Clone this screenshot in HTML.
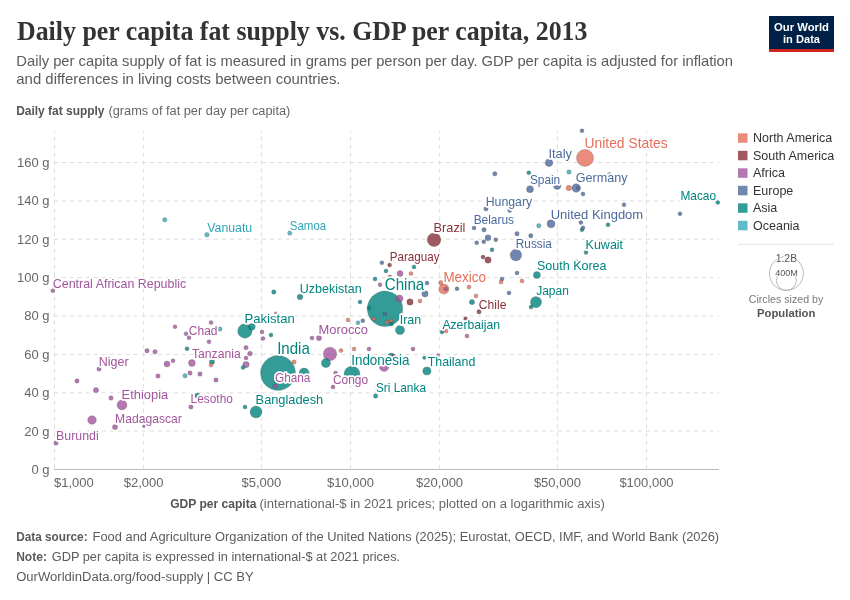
<!DOCTYPE html>
<html><head><meta charset="utf-8"><style>
html,body{margin:0;padding:0;background:#fff;width:850px;height:600px;overflow:hidden}
svg{display:block;font-family:"Liberation Sans",sans-serif;will-change:transform}
.lbl{paint-order:stroke;stroke:#fff;stroke-width:3.4px;stroke-linejoin:round}
</style></head><body>
<svg width="850" height="600" viewBox="0 0 850 600">

<text x="17" y="40.4" font-family="Liberation Serif, serif" font-weight="bold" font-size="28" fill="#333" textLength="570.5" lengthAdjust="spacingAndGlyphs">Daily per capita fat supply vs. GDP per capita, 2013</text>
<text x="16.3" y="66.4" font-size="15" fill="#5b5b5b" textLength="716.7" lengthAdjust="spacingAndGlyphs">Daily per capita supply of fat is measured in grams per person per day. GDP per capita is adjusted for inflation</text>
<text x="16.3" y="84.3" font-size="15" fill="#5b5b5b" textLength="324.2" lengthAdjust="spacingAndGlyphs">and differences in living costs between countries.</text>
<rect x="769" y="16" width="65" height="33" fill="#002147"/><rect x="769" y="49" width="65" height="3" fill="#ce261e"/>
<text x="801.5" y="30.7" font-size="11.5" font-weight="bold" fill="#fff" text-anchor="middle" textLength="55" lengthAdjust="spacingAndGlyphs">Our World</text>
<text x="801.5" y="42.5" font-size="11.5" font-weight="bold" fill="#fff" text-anchor="middle" textLength="37" lengthAdjust="spacingAndGlyphs">in Data</text>
<text x="16.2" y="115.2" font-size="12" font-weight="bold" fill="#555" textLength="88.3" lengthAdjust="spacingAndGlyphs">Daily fat supply</text>
<text x="108.5" y="115.2" font-size="12" fill="#666" textLength="181.8" lengthAdjust="spacingAndGlyphs">(grams of fat per day per capita)</text>
<line x1="54.5" y1="468.6" x2="54.5" y2="130.5" stroke="#ddd" stroke-width="1" stroke-dasharray="4,4"/>
<line x1="143.6" y1="468.6" x2="143.6" y2="130.5" stroke="#ddd" stroke-width="1" stroke-dasharray="4,4"/>
<line x1="261.4" y1="468.6" x2="261.4" y2="130.5" stroke="#ddd" stroke-width="1" stroke-dasharray="4,4"/>
<line x1="350.5" y1="468.6" x2="350.5" y2="130.5" stroke="#ddd" stroke-width="1" stroke-dasharray="4,4"/>
<line x1="439.6" y1="468.6" x2="439.6" y2="130.5" stroke="#ddd" stroke-width="1" stroke-dasharray="4,4"/>
<line x1="557.4" y1="468.6" x2="557.4" y2="130.5" stroke="#ddd" stroke-width="1" stroke-dasharray="4,4"/>
<line x1="646.5" y1="468.6" x2="646.5" y2="130.5" stroke="#ddd" stroke-width="1" stroke-dasharray="4,4"/>
<line x1="53.6" y1="431.1" x2="719" y2="431.1" stroke="#ddd" stroke-width="1" stroke-dasharray="4,4"/>
<line x1="53.6" y1="392.8" x2="719" y2="392.8" stroke="#ddd" stroke-width="1" stroke-dasharray="4,4"/>
<line x1="53.6" y1="354.4" x2="719" y2="354.4" stroke="#ddd" stroke-width="1" stroke-dasharray="4,4"/>
<line x1="53.6" y1="316.0" x2="719" y2="316.0" stroke="#ddd" stroke-width="1" stroke-dasharray="4,4"/>
<line x1="53.6" y1="277.6" x2="719" y2="277.6" stroke="#ddd" stroke-width="1" stroke-dasharray="4,4"/>
<line x1="53.6" y1="239.2" x2="719" y2="239.2" stroke="#ddd" stroke-width="1" stroke-dasharray="4,4"/>
<line x1="53.6" y1="200.9" x2="719" y2="200.9" stroke="#ddd" stroke-width="1" stroke-dasharray="4,4"/>
<line x1="53.6" y1="162.5" x2="719" y2="162.5" stroke="#ddd" stroke-width="1" stroke-dasharray="4,4"/>
<line x1="54" y1="469.5" x2="719" y2="469.5" stroke="#bbb" stroke-width="1"/>
<text x="49.6" y="473.9" font-size="13" fill="#666" text-anchor="end" textLength="18.1" lengthAdjust="spacingAndGlyphs">0 g</text>
<text x="49.6" y="435.5" font-size="13" fill="#666" text-anchor="end" textLength="25.3" lengthAdjust="spacingAndGlyphs">20 g</text>
<text x="49.6" y="397.1" font-size="13" fill="#666" text-anchor="end" textLength="25.3" lengthAdjust="spacingAndGlyphs">40 g</text>
<text x="49.6" y="358.8" font-size="13" fill="#666" text-anchor="end" textLength="25.3" lengthAdjust="spacingAndGlyphs">60 g</text>
<text x="49.6" y="320.4" font-size="13" fill="#666" text-anchor="end" textLength="25.3" lengthAdjust="spacingAndGlyphs">80 g</text>
<text x="49.6" y="282.0" font-size="13" fill="#666" text-anchor="end" textLength="32.5" lengthAdjust="spacingAndGlyphs">100 g</text>
<text x="49.6" y="243.7" font-size="13" fill="#666" text-anchor="end" textLength="32.5" lengthAdjust="spacingAndGlyphs">120 g</text>
<text x="49.6" y="205.3" font-size="13" fill="#666" text-anchor="end" textLength="32.5" lengthAdjust="spacingAndGlyphs">140 g</text>
<text x="49.6" y="166.9" font-size="13" fill="#666" text-anchor="end" textLength="32.5" lengthAdjust="spacingAndGlyphs">160 g</text>
<text x="54.0" y="487.4" font-size="13" fill="#666" text-anchor="start">$1,000</text>
<text x="143.6" y="487.4" font-size="13" fill="#666" text-anchor="middle">$2,000</text>
<text x="261.4" y="487.4" font-size="13" fill="#666" text-anchor="middle">$5,000</text>
<text x="350.5" y="487.4" font-size="13" fill="#666" text-anchor="middle">$10,000</text>
<text x="439.6" y="487.4" font-size="13" fill="#666" text-anchor="middle">$20,000</text>
<text x="557.4" y="487.4" font-size="13" fill="#666" text-anchor="middle">$50,000</text>
<text x="646.5" y="487.4" font-size="13" fill="#666" text-anchor="middle">$100,000</text>
<text x="170.2" y="508" font-size="12" font-weight="bold" fill="#555" textLength="86.2" lengthAdjust="spacingAndGlyphs">GDP per capita</text>
<text x="259.5" y="508" font-size="12" fill="#666" textLength="345.3" lengthAdjust="spacingAndGlyphs">(international-$ in 2021 prices; plotted on a logarithmic axis)</text>
<text x="16.2" y="540.8" font-size="12" font-weight="bold" fill="#5b5b5b" textLength="71.4" lengthAdjust="spacingAndGlyphs">Data source:</text>
<text x="92.6" y="540.8" font-size="12" fill="#5b5b5b" textLength="626.5" lengthAdjust="spacingAndGlyphs">Food and Agriculture Organization of the United Nations (2025); Eurostat, OECD, IMF, and World Bank (2026)</text>
<text x="16.2" y="560.7" font-size="12" font-weight="bold" fill="#5b5b5b" textLength="30.7" lengthAdjust="spacingAndGlyphs">Note:</text>
<text x="51.7" y="560.7" font-size="12" fill="#5b5b5b" textLength="348.4" lengthAdjust="spacingAndGlyphs">GDP per capita is expressed in international-$ at 2021 prices.</text>
<text x="16.2" y="580.8" font-size="12" fill="#5b5b5b" textLength="237.6" lengthAdjust="spacingAndGlyphs">OurWorldinData.org/food-supply | CC BY</text>
<rect x="738" y="133.3" width="9.5" height="9.5" fill="#E56E5A" opacity="0.8"/>
<text x="753" y="142.0" font-size="12.5" fill="#333">North America</text>
<rect x="738" y="150.8" width="9.5" height="9.5" fill="#883039" opacity="0.8"/>
<text x="753" y="159.5" font-size="12.5" fill="#333">South America</text>
<rect x="738" y="168.3" width="9.5" height="9.5" fill="#A2559C" opacity="0.8"/>
<text x="753" y="177.0" font-size="12.5" fill="#333">Africa</text>
<rect x="738" y="185.8" width="9.5" height="9.5" fill="#4C6A9C" opacity="0.8"/>
<text x="753" y="194.5" font-size="12.5" fill="#333">Europe</text>
<rect x="738" y="203.3" width="9.5" height="9.5" fill="#00847E" opacity="0.8"/>
<text x="753" y="212.0" font-size="12.5" fill="#333">Asia</text>
<rect x="738" y="220.8" width="9.5" height="9.5" fill="#38AABA" opacity="0.8"/>
<text x="753" y="229.5" font-size="12.5" fill="#333">Oceania</text>
<line x1="738.3" y1="244.3" x2="833.8" y2="244.3" stroke="#e3e3e3" stroke-width="1"/>
<circle cx="786.4" cy="273.4" r="17" fill="none" stroke="#aaa" stroke-width="0.8"/>
<circle cx="786.4" cy="280.4" r="10" fill="none" stroke="#aaa" stroke-width="0.8"/>
<text x="786.4" y="262" font-size="10.4" fill="#555" text-anchor="middle" class="lbl" style="stroke-width:2px">1.2B</text>
<text x="786.4" y="275.8" font-size="9" fill="#555" text-anchor="middle" class="lbl" style="stroke-width:2px">400M</text>
<text x="786" y="303.3" font-size="10.6" fill="#777" text-anchor="middle" textLength="74.5" lengthAdjust="spacingAndGlyphs">Circles sized by</text>
<text x="786.2" y="317.2" font-size="11.3" font-weight="bold" fill="#555" text-anchor="middle" textLength="58.5" lengthAdjust="spacingAndGlyphs">Population</text>
<g stroke="#333" stroke-width="0.5" stroke-opacity="0.6">
<circle cx="385.0" cy="308.8" r="17.7" fill="#00847E" opacity="0.8"/>
<circle cx="278.0" cy="373.0" r="17.4" fill="#00847E" opacity="0.8"/>
<circle cx="585.0" cy="157.9" r="8.5" fill="#E56E5A" opacity="0.8"/>
<circle cx="352.0" cy="374.2" r="8.0" fill="#00847E" opacity="0.8"/>
<circle cx="244.9" cy="331.0" r="7.2" fill="#00847E" opacity="0.8"/>
<circle cx="434.0" cy="239.8" r="6.8" fill="#883039" opacity="0.8"/>
<circle cx="330.0" cy="353.9" r="6.7" fill="#A2559C" opacity="0.8"/>
<circle cx="256.0" cy="411.9" r="6.0" fill="#00847E" opacity="0.8"/>
<circle cx="515.9" cy="255.1" r="5.8" fill="#4C6A9C" opacity="0.8"/>
<circle cx="536.0" cy="302.1" r="5.6" fill="#00847E" opacity="0.8"/>
<circle cx="304.1" cy="373.2" r="5.1" fill="#00847E" opacity="0.8"/>
<circle cx="443.9" cy="289.0" r="5.1" fill="#E56E5A" opacity="0.8"/>
<circle cx="122.0" cy="405.0" r="4.9" fill="#A2559C" opacity="0.8"/>
<circle cx="384.1" cy="366.7" r="4.8" fill="#A2559C" opacity="0.8"/>
<circle cx="400.0" cy="330.0" r="4.6" fill="#00847E" opacity="0.8"/>
<circle cx="325.9" cy="363.0" r="4.6" fill="#00847E" opacity="0.8"/>
<circle cx="92.0" cy="420.0" r="4.3" fill="#A2559C" opacity="0.8"/>
<circle cx="576.2" cy="188.0" r="4.3" fill="#4C6A9C" opacity="0.8"/>
<circle cx="426.9" cy="371.0" r="4.1" fill="#00847E" opacity="0.8"/>
<circle cx="551.0" cy="223.8" r="4.0" fill="#4C6A9C" opacity="0.8"/>
<circle cx="549.0" cy="162.8" r="3.8" fill="#4C6A9C" opacity="0.8"/>
<circle cx="557.2" cy="185.8" r="3.7" fill="#4C6A9C" opacity="0.8"/>
<circle cx="399.5" cy="298.4" r="3.5" fill="#A2559C" opacity="0.8"/>
<circle cx="536.9" cy="275.0" r="3.5" fill="#00847E" opacity="0.8"/>
<circle cx="530.0" cy="189.2" r="3.5" fill="#4C6A9C" opacity="0.8"/>
<circle cx="191.9" cy="363.0" r="3.4" fill="#A2559C" opacity="0.8"/>
<circle cx="251.9" cy="326.8" r="3.4" fill="#00847E" opacity="0.8"/>
<circle cx="246.0" cy="364.6" r="3.2" fill="#A2559C" opacity="0.8"/>
<circle cx="391.2" cy="356.2" r="3.2" fill="#00847E" opacity="0.8"/>
<circle cx="425.0" cy="293.8" r="3.2" fill="#4C6A9C" opacity="0.8"/>
<circle cx="488.0" cy="260.0" r="3.2" fill="#883039" opacity="0.8"/>
<circle cx="410.0" cy="302.0" r="3.2" fill="#883039" opacity="0.8"/>
<circle cx="167.0" cy="363.9" r="3.0" fill="#A2559C" opacity="0.8"/>
<circle cx="400.0" cy="273.6" r="3.0" fill="#A2559C" opacity="0.8"/>
<circle cx="488.0" cy="237.8" r="3.0" fill="#4C6A9C" opacity="0.8"/>
<circle cx="300.0" cy="297.0" r="2.8" fill="#00847E" opacity="0.8"/>
<circle cx="197.5" cy="395.8" r="2.7" fill="#00847E" opacity="0.8"/>
<circle cx="568.8" cy="188.0" r="2.7" fill="#E56E5A" opacity="0.8"/>
<circle cx="96.0" cy="390.0" r="2.6" fill="#A2559C" opacity="0.8"/>
<circle cx="115.0" cy="427.0" r="2.6" fill="#A2559C" opacity="0.8"/>
<circle cx="319.0" cy="338.0" r="2.6" fill="#A2559C" opacity="0.8"/>
<circle cx="212.0" cy="361.8" r="2.6" fill="#00847E" opacity="0.8"/>
<circle cx="472.0" cy="302.0" r="2.6" fill="#00847E" opacity="0.8"/>
<circle cx="250.0" cy="353.6" r="2.4" fill="#A2559C" opacity="0.8"/>
<circle cx="206.9" cy="234.8" r="2.3" fill="#38AABA" opacity="0.8"/>
<circle cx="164.8" cy="219.8" r="2.2" fill="#38AABA" opacity="0.8"/>
<circle cx="289.8" cy="233.0" r="2.2" fill="#38AABA" opacity="0.8"/>
<circle cx="569.0" cy="172.0" r="2.2" fill="#38AABA" opacity="0.8"/>
<circle cx="538.8" cy="225.7" r="2.2" fill="#38AABA" opacity="0.8"/>
<circle cx="220.0" cy="329.0" r="2.2" fill="#38AABA" opacity="0.8"/>
<circle cx="185.0" cy="375.8" r="2.2" fill="#38AABA" opacity="0.8"/>
<circle cx="147.0" cy="350.7" r="2.2" fill="#A2559C" opacity="0.8"/>
<circle cx="155.0" cy="351.8" r="2.2" fill="#A2559C" opacity="0.8"/>
<circle cx="99.0" cy="369.0" r="2.2" fill="#A2559C" opacity="0.8"/>
<circle cx="77.0" cy="381.0" r="2.2" fill="#A2559C" opacity="0.8"/>
<circle cx="158.0" cy="376.0" r="2.2" fill="#A2559C" opacity="0.8"/>
<circle cx="190.0" cy="373.0" r="2.2" fill="#A2559C" opacity="0.8"/>
<circle cx="200.0" cy="374.0" r="2.2" fill="#A2559C" opacity="0.8"/>
<circle cx="216.0" cy="380.0" r="2.2" fill="#A2559C" opacity="0.8"/>
<circle cx="111.0" cy="398.0" r="2.2" fill="#A2559C" opacity="0.8"/>
<circle cx="190.9" cy="406.9" r="2.2" fill="#A2559C" opacity="0.8"/>
<circle cx="56.0" cy="443.0" r="2.2" fill="#A2559C" opacity="0.8"/>
<circle cx="246.0" cy="347.6" r="2.2" fill="#A2559C" opacity="0.8"/>
<circle cx="273.8" cy="292.0" r="2.2" fill="#00847E" opacity="0.8"/>
<circle cx="375.6" cy="396.0" r="2.2" fill="#00847E" opacity="0.8"/>
<circle cx="494.8" cy="173.8" r="2.2" fill="#4C6A9C" opacity="0.8"/>
<circle cx="486.0" cy="208.8" r="2.2" fill="#4C6A9C" opacity="0.8"/>
<circle cx="484.0" cy="229.8" r="2.2" fill="#4C6A9C" opacity="0.8"/>
<circle cx="517.0" cy="233.7" r="2.2" fill="#4C6A9C" opacity="0.8"/>
<circle cx="530.8" cy="235.8" r="2.2" fill="#4C6A9C" opacity="0.8"/>
<circle cx="440.8" cy="282.7" r="2.2" fill="#E56E5A" opacity="0.8"/>
<circle cx="294.0" cy="362.0" r="2.2" fill="#E56E5A" opacity="0.8"/>
<circle cx="479.0" cy="311.8" r="2.2" fill="#883039" opacity="0.8"/>
<circle cx="394.0" cy="356.5" r="2.2" fill="#883039" opacity="0.8"/>
<circle cx="358.0" cy="322.8" r="2.0" fill="#38AABA" opacity="0.8"/>
<circle cx="52.8" cy="290.8" r="2.0" fill="#A2559C" opacity="0.8"/>
<circle cx="175.0" cy="326.7" r="2.0" fill="#A2559C" opacity="0.8"/>
<circle cx="211.0" cy="322.6" r="2.0" fill="#A2559C" opacity="0.8"/>
<circle cx="186.0" cy="333.7" r="2.0" fill="#A2559C" opacity="0.8"/>
<circle cx="189.0" cy="337.8" r="2.0" fill="#A2559C" opacity="0.8"/>
<circle cx="209.0" cy="341.8" r="2.0" fill="#A2559C" opacity="0.8"/>
<circle cx="173.0" cy="360.8" r="2.0" fill="#A2559C" opacity="0.8"/>
<circle cx="262.0" cy="332.0" r="2.0" fill="#A2559C" opacity="0.8"/>
<circle cx="263.0" cy="338.6" r="2.0" fill="#A2559C" opacity="0.8"/>
<circle cx="246.0" cy="358.0" r="2.0" fill="#A2559C" opacity="0.8"/>
<circle cx="312.0" cy="338.0" r="2.0" fill="#A2559C" opacity="0.8"/>
<circle cx="369.0" cy="349.0" r="2.0" fill="#A2559C" opacity="0.8"/>
<circle cx="333.0" cy="387.0" r="2.0" fill="#A2559C" opacity="0.8"/>
<circle cx="335.6" cy="373.0" r="2.0" fill="#A2559C" opacity="0.8"/>
<circle cx="380.0" cy="284.8" r="2.0" fill="#A2559C" opacity="0.8"/>
<circle cx="413.0" cy="349.0" r="2.0" fill="#A2559C" opacity="0.8"/>
<circle cx="467.0" cy="336.0" r="2.0" fill="#A2559C" opacity="0.8"/>
<circle cx="271.0" cy="335.0" r="2.0" fill="#00847E" opacity="0.8"/>
<circle cx="360.0" cy="302.0" r="2.0" fill="#00847E" opacity="0.8"/>
<circle cx="386.0" cy="271.0" r="2.0" fill="#00847E" opacity="0.8"/>
<circle cx="375.0" cy="279.0" r="2.0" fill="#00847E" opacity="0.8"/>
<circle cx="414.0" cy="267.0" r="2.0" fill="#00847E" opacity="0.8"/>
<circle cx="442.0" cy="332.0" r="2.0" fill="#00847E" opacity="0.8"/>
<circle cx="187.0" cy="348.7" r="2.0" fill="#00847E" opacity="0.8"/>
<circle cx="243.0" cy="367.6" r="2.0" fill="#00847E" opacity="0.8"/>
<circle cx="245.0" cy="407.0" r="2.0" fill="#00847E" opacity="0.8"/>
<circle cx="492.0" cy="249.8" r="2.0" fill="#00847E" opacity="0.8"/>
<circle cx="531.0" cy="307.0" r="2.0" fill="#00847E" opacity="0.8"/>
<circle cx="586.0" cy="252.4" r="2.0" fill="#00847E" opacity="0.8"/>
<circle cx="528.8" cy="172.8" r="2.0" fill="#00847E" opacity="0.8"/>
<circle cx="717.8" cy="202.6" r="2.0" fill="#00847E" opacity="0.8"/>
<circle cx="608.0" cy="224.8" r="2.0" fill="#00847E" opacity="0.8"/>
<circle cx="582.0" cy="229.8" r="2.0" fill="#00847E" opacity="0.8"/>
<circle cx="576.0" cy="261.5" r="2.0" fill="#00847E" opacity="0.8"/>
<circle cx="583.0" cy="194.0" r="2.0" fill="#4C6A9C" opacity="0.8"/>
<circle cx="582.0" cy="130.8" r="2.0" fill="#4C6A9C" opacity="0.8"/>
<circle cx="624.0" cy="204.8" r="2.0" fill="#4C6A9C" opacity="0.8"/>
<circle cx="680.0" cy="213.8" r="2.0" fill="#4C6A9C" opacity="0.8"/>
<circle cx="509.7" cy="210.5" r="2.0" fill="#4C6A9C" opacity="0.8"/>
<circle cx="474.0" cy="228.0" r="2.0" fill="#4C6A9C" opacity="0.8"/>
<circle cx="580.9" cy="222.6" r="2.0" fill="#4C6A9C" opacity="0.8"/>
<circle cx="583.0" cy="227.8" r="2.0" fill="#4C6A9C" opacity="0.8"/>
<circle cx="476.7" cy="242.8" r="2.0" fill="#4C6A9C" opacity="0.8"/>
<circle cx="483.8" cy="241.7" r="2.0" fill="#4C6A9C" opacity="0.8"/>
<circle cx="495.8" cy="239.7" r="2.0" fill="#4C6A9C" opacity="0.8"/>
<circle cx="381.9" cy="262.8" r="2.0" fill="#4C6A9C" opacity="0.8"/>
<circle cx="427.0" cy="283.0" r="2.0" fill="#4C6A9C" opacity="0.8"/>
<circle cx="457.0" cy="288.8" r="2.0" fill="#4C6A9C" opacity="0.8"/>
<circle cx="517.0" cy="273.0" r="2.0" fill="#4C6A9C" opacity="0.8"/>
<circle cx="502.0" cy="279.0" r="2.0" fill="#4C6A9C" opacity="0.8"/>
<circle cx="509.0" cy="293.0" r="2.0" fill="#4C6A9C" opacity="0.8"/>
<circle cx="362.8" cy="320.8" r="2.0" fill="#4C6A9C" opacity="0.8"/>
<circle cx="469.0" cy="287.0" r="2.0" fill="#E56E5A" opacity="0.8"/>
<circle cx="476.0" cy="296.0" r="2.0" fill="#E56E5A" opacity="0.8"/>
<circle cx="411.0" cy="273.6" r="2.0" fill="#E56E5A" opacity="0.8"/>
<circle cx="420.0" cy="301.0" r="2.0" fill="#E56E5A" opacity="0.8"/>
<circle cx="501.0" cy="282.0" r="2.0" fill="#E56E5A" opacity="0.8"/>
<circle cx="522.0" cy="281.0" r="2.0" fill="#E56E5A" opacity="0.8"/>
<circle cx="446.0" cy="331.0" r="2.0" fill="#E56E5A" opacity="0.8"/>
<circle cx="348.0" cy="320.0" r="2.0" fill="#E56E5A" opacity="0.8"/>
<circle cx="341.0" cy="350.6" r="2.0" fill="#E56E5A" opacity="0.8"/>
<circle cx="354.0" cy="349.0" r="2.0" fill="#E56E5A" opacity="0.8"/>
<circle cx="211.0" cy="365.0" r="2.0" fill="#E56E5A" opacity="0.8"/>
<circle cx="391.0" cy="321.0" r="2.0" fill="#E56E5A" opacity="0.8"/>
<circle cx="389.6" cy="265.0" r="2.0" fill="#883039" opacity="0.8"/>
<circle cx="483.0" cy="257.0" r="2.0" fill="#883039" opacity="0.8"/>
<circle cx="465.6" cy="318.7" r="2.0" fill="#883039" opacity="0.8"/>
<circle cx="390.0" cy="277.0" r="2.0" fill="#883039" opacity="0.8"/>
<circle cx="424.3" cy="357.8" r="1.7" fill="#00847E" opacity="0.8"/>
<circle cx="144.0" cy="426.0" r="1.5" fill="#A2559C" opacity="0.8"/>
<circle cx="438.0" cy="355.0" r="1.5" fill="#A2559C" opacity="0.8"/>
<circle cx="275.6" cy="313.0" r="1.2" fill="#E56E5A" opacity="0.8"/>
<circle cx="369.0" cy="308.0" r="2.0" fill="#00847E" opacity="0.8"/>
<circle cx="385.0" cy="314.0" r="2.0" fill="#4C6A9C" opacity="0.8"/>
<circle cx="374.0" cy="319.0" r="2.0" fill="#E56E5A" opacity="0.8"/>
<circle cx="387.0" cy="322.0" r="2.0" fill="#E56E5A" opacity="0.8"/>
<circle cx="578.0" cy="188.0" r="1.8" fill="#4C6A9C" opacity="0.8"/>
<circle cx="391.5" cy="324.0" r="2.0" fill="#00847E" opacity="0.8"/>
<circle cx="609.5" cy="174.5" r="2.0" fill="#4C6A9C" opacity="0.8"/>
<circle cx="445.8" cy="288.9" r="2.0" fill="#A2559C" opacity="0.8"/>
<circle cx="275.0" cy="386.0" r="2.2" fill="#A2559C" opacity="0.8"/>
</g>
<text class="lbl" x="52.8" y="288.0" font-size="12.90" fill="#A2559C" textLength="133.4" lengthAdjust="spacingAndGlyphs">Central African Republic</text>
<text class="lbl" x="207.3" y="232.1" font-size="12.53" fill="#2FA6B8" textLength="44.9" lengthAdjust="spacingAndGlyphs">Vanuatu</text>
<text class="lbl" x="289.8" y="229.8" font-size="12.70" fill="#2FA6B8" textLength="36.4" lengthAdjust="spacingAndGlyphs">Samoa</text>
<text class="lbl" x="98.7" y="366.0" font-size="13.05" fill="#A2559C" textLength="30.0" lengthAdjust="spacingAndGlyphs">Niger</text>
<text class="lbl" x="121.5" y="398.6" font-size="13.47" fill="#A2559C" textLength="46.8" lengthAdjust="spacingAndGlyphs">Ethiopia</text>
<text class="lbl" x="115.1" y="423.0" font-size="12.63" fill="#A2559C" textLength="66.8" lengthAdjust="spacingAndGlyphs">Madagascar</text>
<text class="lbl" x="56.1" y="440.0" font-size="12.85" fill="#A2559C" textLength="42.6" lengthAdjust="spacingAndGlyphs">Burundi</text>
<text class="lbl" x="188.8" y="335.0" font-size="12.48" fill="#A2559C" textLength="28.7" lengthAdjust="spacingAndGlyphs">Chad</text>
<text class="lbl" x="192.0" y="358.3" font-size="12.31" fill="#A2559C" textLength="48.7" lengthAdjust="spacingAndGlyphs">Tanzania</text>
<text class="lbl" x="190.6" y="403.4" font-size="12.38" fill="#A2559C" textLength="42.3" lengthAdjust="spacingAndGlyphs">Lesotho</text>
<text class="lbl" x="244.5" y="322.6" font-size="13.60" fill="#00847E" textLength="50.2" lengthAdjust="spacingAndGlyphs">Pakistan</text>
<text class="lbl" x="299.8" y="293.0" font-size="13.00" fill="#00847E" textLength="61.8" lengthAdjust="spacingAndGlyphs">Uzbekistan</text>
<text class="lbl" x="318.5" y="333.6" font-size="13.42" fill="#A2559C" textLength="49.5" lengthAdjust="spacingAndGlyphs">Morocco</text>
<text class="lbl" x="277.2" y="354.4" font-size="16.40" fill="#00847E" textLength="32.6" lengthAdjust="spacingAndGlyphs">India</text>
<text class="lbl" x="275.0" y="382.0" font-size="12.27" fill="#A2559C" textLength="35.4" lengthAdjust="spacingAndGlyphs">Ghana</text>
<text class="lbl" x="255.6" y="404.4" font-size="13.31" fill="#00847E" textLength="67.6" lengthAdjust="spacingAndGlyphs">Bangladesh</text>
<text class="lbl" x="351.2" y="365.0" font-size="14.20" fill="#00847E" textLength="58.2" lengthAdjust="spacingAndGlyphs">Indonesia</text>
<text class="lbl" x="333.0" y="383.6" font-size="12.38" fill="#A2559C" textLength="35.1" lengthAdjust="spacingAndGlyphs">Congo</text>
<text class="lbl" x="375.9" y="392.0" font-size="12.32" fill="#00847E" textLength="50.1" lengthAdjust="spacingAndGlyphs">Sri Lanka</text>
<text class="lbl" x="427.7" y="365.6" font-size="12.90" fill="#00847E" textLength="47.6" lengthAdjust="spacingAndGlyphs">Thailand</text>
<text class="lbl" x="442.4" y="328.6" font-size="12.69" fill="#00847E" textLength="57.6" lengthAdjust="spacingAndGlyphs">Azerbaijan</text>
<text class="lbl" x="478.8" y="308.5" font-size="12.58" fill="#883039" textLength="27.6" lengthAdjust="spacingAndGlyphs">Chile</text>
<text class="lbl" x="399.7" y="324.4" font-size="13.00" fill="#00847E" textLength="21.5" lengthAdjust="spacingAndGlyphs">Iran</text>
<text class="lbl" x="443.4" y="282.0" font-size="13.99" fill="#E56E5A" textLength="42.6" lengthAdjust="spacingAndGlyphs">Mexico</text>
<text class="lbl" x="389.8" y="261.4" font-size="12.06" fill="#883039" textLength="49.7" lengthAdjust="spacingAndGlyphs">Paraguay</text>
<text class="lbl" x="433.6" y="231.5" font-size="13.21" fill="#883039" textLength="31.8" lengthAdjust="spacingAndGlyphs">Brazil</text>
<text class="lbl" x="384.7" y="289.8" font-size="16.40" fill="#00847E" textLength="39.6" lengthAdjust="spacingAndGlyphs">China</text>
<text class="lbl" x="515.8" y="247.5" font-size="12.27" fill="#4C6A9C" textLength="36.1" lengthAdjust="spacingAndGlyphs">Russia</text>
<text class="lbl" x="473.7" y="224.3" font-size="12.38" fill="#4C6A9C" textLength="40.3" lengthAdjust="spacingAndGlyphs">Belarus</text>
<text class="lbl" x="485.7" y="205.7" font-size="12.79" fill="#4C6A9C" textLength="46.5" lengthAdjust="spacingAndGlyphs">Hungary</text>
<text class="lbl" x="529.9" y="184.2" font-size="12.32" fill="#4C6A9C" textLength="30.3" lengthAdjust="spacingAndGlyphs">Spain</text>
<text class="lbl" x="548.4" y="158.0" font-size="13.31" fill="#4C6A9C" textLength="23.5" lengthAdjust="spacingAndGlyphs">Italy</text>
<text class="lbl" x="584.5" y="148.0" font-size="14.30" fill="#E56E5A" textLength="83.2" lengthAdjust="spacingAndGlyphs">United States</text>
<text class="lbl" x="575.8" y="182.4" font-size="13.10" fill="#4C6A9C" textLength="51.8" lengthAdjust="spacingAndGlyphs">Germany</text>
<text class="lbl" x="550.7" y="218.5" font-size="13.52" fill="#4C6A9C" textLength="92.5" lengthAdjust="spacingAndGlyphs">United Kingdom</text>
<text class="lbl" x="680.4" y="199.6" font-size="12.38" fill="#00847E" textLength="35.7" lengthAdjust="spacingAndGlyphs">Macao</text>
<text class="lbl" x="585.6" y="248.9" font-size="13.00" fill="#00847E" textLength="37.5" lengthAdjust="spacingAndGlyphs">Kuwait</text>
<text class="lbl" x="537.0" y="270.2" font-size="13.00" fill="#00847E" textLength="69.5" lengthAdjust="spacingAndGlyphs">South Korea</text>
<text class="lbl" x="536.2" y="295.3" font-size="12.48" fill="#00847E" textLength="32.7" lengthAdjust="spacingAndGlyphs">Japan</text>
</svg></body></html>
